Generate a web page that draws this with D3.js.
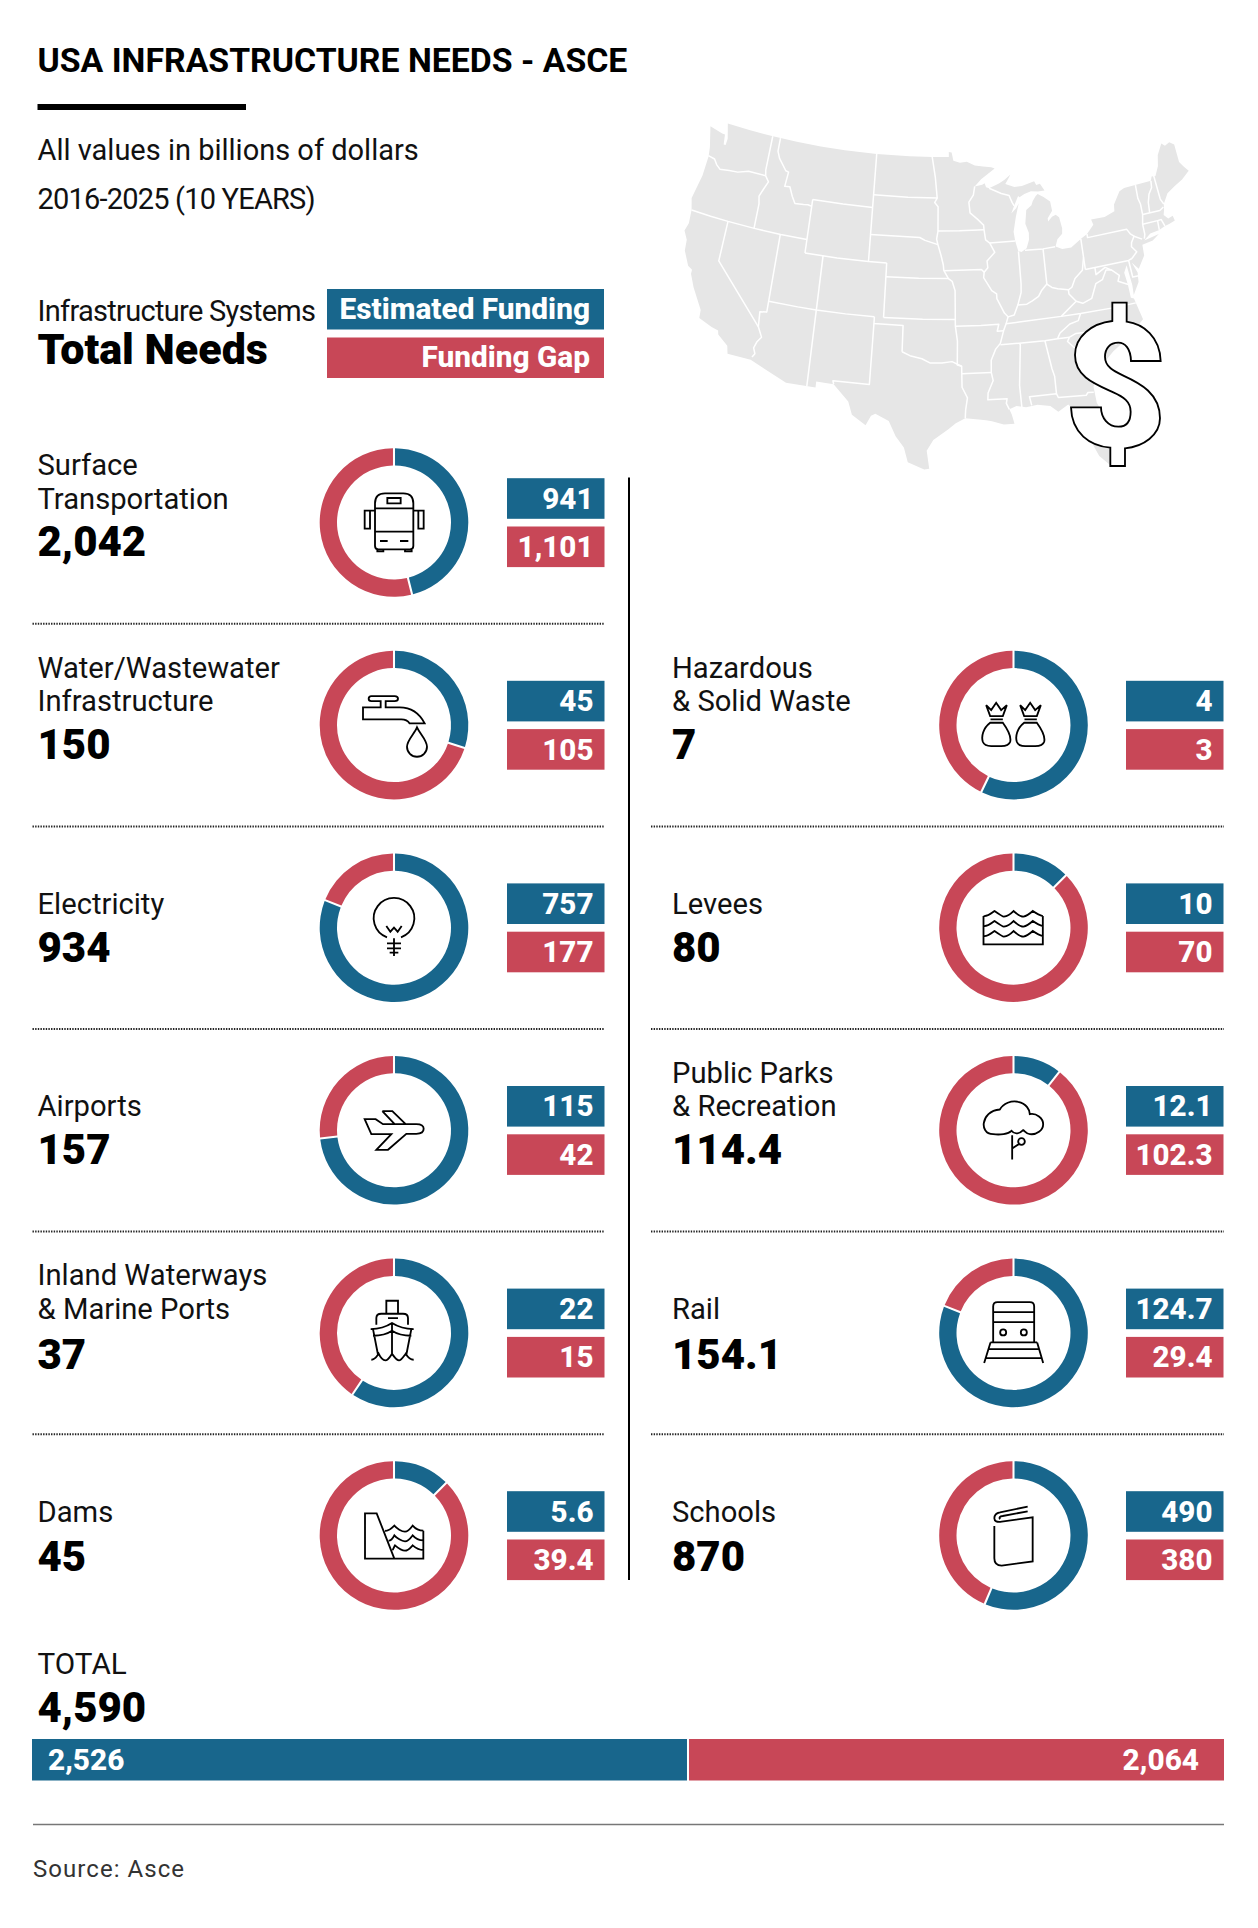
<!DOCTYPE html>
<html><head><meta charset="utf-8">
<script src="https://cdnjs.cloudflare.com/ajax/libs/d3/7.8.5/d3.min.js"></script>
<style>html,body{margin:0;padding:0;background:#fff}svg{display:block}text{font-family:Roboto,sans-serif}</style>
</head><body><script>
const systems = [["Surface","Transportation"],["Water/Wastewater","Infrastructure"],["Electricity"],["Airports"],["Inland Waterways","& Marine Ports"],["Dams"],["Hazardous","& Solid Waste"],["Levees"],["Public Parks","& Recreation"],["Rail"],["Schools"]];
const columnOf = [0,0,0,0,0,0,1,1,1,1,1];
const rowOf = [0,1,2,3,4,5,1,2,3,4,5];
const totalNeeds = [2042,150,934,157,37,45,7,80,114.4,154.1,870];
const estimatedFunding = [941,45,757,115,22,5.6,4,10,12.1,124.7,490];
const fundingGap = [1101,105,177,42,15,39.4,3,70,102.3,29.4,380];
const grandTotal = 4590, grandFunding = 2526, grandGap = 2064;
const iconNames = ["bus","tap","bulb","plane","ship","dam","bags","levee","tree","train","book"];

// lower-48 outline, lon/lat
const usOutline = [[-124.7,48.38],[-123.1,48.15],[-122.75,48.15],[-122.6,47.4],[-122.35,47.4],[-122.3,47.9],[-122.5,48.4],[-122.75,49],[-120,49],[-117,49],[-114,49],[-111,49],[-108,49],[-104.05,49],[-100,49],[-97.2,49],[-95.15,49],[-95.15,49.38],[-94.8,49.33],[-94.6,48.72],[-93.8,48.55],[-92.95,48.62],[-92,48.3],[-91,48.2],[-90,48.1],[-89.6,48],[-91.3,47.25],[-92.1,46.75],[-91.2,46.85],[-90.9,46.95],[-90.75,46.65],[-90.4,46.55],[-89.2,46.85],[-88.5,47.1],[-87.75,47.45],[-88.2,47],[-88.45,46.78],[-87.4,46.5],[-86.5,46.5],[-85,46.75],[-84.8,46.45],[-84.35,46.5],[-84.1,46.2],[-83.9,45.97],[-84.7,45.95],[-85.5,46.05],[-86.3,45.9],[-86.9,45.7],[-87.05,45.8],[-87.6,45.1],[-88,44.55],[-87.4,44.9],[-87.05,45.25],[-87.5,44.3],[-87.9,43.2],[-87.8,42.5],[-87.55,41.75],[-87.2,41.65],[-86.6,41.9],[-86.25,42.5],[-86.2,43],[-86.5,43.7],[-86.25,44.7],[-85.6,45],[-85.4,45.3],[-85,45.65],[-84.75,45.78],[-84.1,45.5],[-83.4,45.1],[-83.3,44.4],[-83.9,43.9],[-83.9,43.65],[-83.4,43.95],[-82.95,44.07],[-82.6,43.85],[-82.42,43],[-82.5,42.6],[-83.1,42.25],[-83.4,41.75],[-82.7,41.5],[-81.7,41.5],[-80.5,42],[-79.76,42.27],[-78.9,42.85],[-79.05,43.27],[-77.5,43.25],[-76.3,43.5],[-76.2,44],[-75.3,44.85],[-74.7,45],[-71.5,45],[-71.3,45.3],[-70.85,45.25],[-70.3,45.9],[-70,46.7],[-69.25,47.45],[-68.9,47.2],[-68.3,47.35],[-67.8,47.07],[-67.8,45.7],[-67.45,45.3],[-67,44.85],[-68,44.4],[-69,44.1],[-70,43.75],[-70.7,43.07],[-70.8,42.7],[-71,42.3],[-70.6,41.95],[-70.05,42.05],[-69.95,41.67],[-70.6,41.55],[-71.2,41.48],[-71.85,41.32],[-72.9,41.25],[-73.7,40.87],[-72,41.05],[-72.8,40.7],[-74,40.6],[-74.05,39.8],[-74.9,38.95],[-75.5,39.5],[-75.1,38.7],[-75.2,38],[-75.95,37.15],[-75.9,37.9],[-76.1,39.4],[-76.5,38.9],[-76.35,38],[-76.3,37],[-76,36.9],[-75.5,35.25],[-76.5,34.65],[-77.9,33.9],[-79,33.4],[-80.7,32.3],[-81.4,31.1],[-81.3,29.9],[-80.55,28.4],[-80.05,26.8],[-80.2,25.5],[-80.9,25.15],[-81.75,25.95],[-82.2,26.9],[-82.75,27.8],[-82.65,28.8],[-83.4,29.55],[-84,30.1],[-85,29.65],[-85.7,30.15],[-86.9,30.35],[-88,30.25],[-88.9,30.4],[-89.6,30.2],[-89.4,29.8],[-89.2,29.1],[-90.2,29.1],[-91.3,29.4],[-91.85,29.5],[-92.3,29.55],[-93.8,29.7],[-94.7,29.35],[-95.4,28.9],[-96.8,28.1],[-97.4,27.3],[-97.15,25.97],[-97.6,25.9],[-99.1,26.4],[-99.5,27.5],[-100.3,28.3],[-101,29.4],[-102.3,29.87],[-102.7,29.7],[-103.15,28.98],[-104.5,29.65],[-104.95,30.6],[-106.5,31.75],[-108.2,31.78],[-108.2,31.33],[-111.07,31.33],[-114.8,32.5],[-117.12,32.53],[-117.3,33.1],[-118.4,33.75],[-118.5,34.03],[-119.2,34.15],[-120.6,34.55],[-120.65,35.15],[-121.9,36.6],[-122.5,37.5],[-122.5,37.8],[-123,38],[-123.75,39],[-123.85,39.8],[-124.35,40.4],[-124.1,41],[-124.2,42],[-124.55,42.85],[-124.05,44.7],[-123.95,46.2],[-124.1,46.9]];
// state borders, lon/lat
const stateBorders = [
[[-124,46.25],[-123.2,46.15],[-122.8,45.8],[-122.3,45.55],[-121.2,45.65],[-120.2,45.72],[-119.3,45.93],[-119,46],[-116.92,46]],
[[-117.03,49],[-117.04,46.4],[-116.92,46]],
[[-116.92,46],[-116.46,45.6],[-116.85,45],[-117.2,44.4],[-117.03,43.85],[-117.03,42]],
[[-124.2,42],[-122,42],[-120,42],[-117,42],[-114,42],[-111.05,42]],
[[-120,42],[-120,39],[-114.63,35]],
[[-114.63,35],[-114.14,34.3],[-114.5,33.9],[-114.72,33.4],[-114.5,33],[-114.72,32.72]],
[[-114.63,35],[-114.75,36.1],[-114.05,36.2]],
[[-114.05,42],[-114.05,36.2],[-114.05,37]],
[[-114.05,37],[-111,37],[-109.05,37],[-106,37],[-103,37]],
[[-116.05,49],[-116.05,48],[-115.7,47.5],[-114.7,46.7],[-114.35,46.65],[-114.5,45.55],[-113.9,45.6],[-113.45,44.95],[-113,44.45],[-112,44.5],[-111.5,44.55],[-111.05,44.48]],
[[-111.05,45],[-107.5,45],[-104.05,45]],
[[-111.05,45],[-111.05,41]],
[[-111.05,41],[-107.5,41],[-104.05,41],[-102.05,41]],
[[-104.05,49],[-104.05,41]],
[[-109.05,41],[-109.05,31.33]],
[[-102.05,41],[-102.05,37]],
[[-102.05,40],[-98.5,40],[-95.3,40]],
[[-102.05,37],[-98,37],[-94.62,37]],
[[-103,37],[-103,36.5],[-100,36.5],[-100,34.56]],
[[-103,36.5],[-103.05,32],[-106.6,32],[-106.5,31.75]],
[[-100,34.56],[-99.2,34.3],[-98,34.1],[-97.2,33.8],[-96,33.8],[-95,33.9],[-94.05,33.55]],
[[-104.05,45.94],[-100,45.94],[-96.56,45.94]],
[[-104.05,43],[-98.5,43],[-97.9,42.8],[-96.45,42.5]],
[[-97.2,49],[-96.8,47.5],[-96.56,45.94],[-96.85,45.6],[-96.45,45.3],[-96.45,43.5],[-96.6,42.9],[-96.45,42.5],[-96.1,41.7],[-95.85,41],[-95.8,40.6],[-95.3,40],[-94.9,39.8],[-94.6,39.1],[-94.62,36.5],[-94.43,35.4],[-94.48,33.64],[-94.05,33.55],[-94.05,32],[-93.55,31.2],[-93.75,30.3],[-93.8,29.7]],
[[-96.45,43.5],[-94,43.5],[-91.22,43.5]],
[[-95.77,40.58],[-91.7,40.6],[-91.42,40.38]],
[[-94.62,36.5],[-92,36.5],[-90.15,36.5],[-90.35,36],[-89.7,36]],
[[-94.05,33],[-91.15,33]],
[[-92.1,46.75],[-92.3,46.1],[-92.85,45.6],[-92.75,44.8],[-91.9,44.3],[-91.25,43.85],[-91.22,43.5],[-91.1,42.75],[-90.65,42.5],[-90.15,41.8],[-91.05,41.2],[-91,40.7],[-91.42,40.38],[-91.5,40],[-90.7,39],[-90.2,38.75],[-90.2,38.4],[-89.5,37.3],[-89.15,37],[-89.4,36.5],[-89.7,36],[-90.1,35.1],[-90.6,34.7],[-91.1,33.9],[-91.15,33],[-91,32.4],[-91.55,31.5],[-91.6,31],[-89.75,31],[-89.85,30.65],[-89.6,30.2]],
[[-90.65,42.5],[-87.8,42.5]],
[[-90.4,46.55],[-89,46.1],[-88.1,45.9],[-87.8,45.35],[-87.6,45.1]],
[[-87.53,41.72],[-87.53,39.35],[-87.6,38.7],[-88.05,37.8]],
[[-89.15,37],[-88.5,37.1],[-88.05,37.8],[-87.1,37.8],[-86.5,38],[-85.8,38.27],[-85.4,38.7],[-84.8,39.1],[-84.3,38.8],[-83.7,38.65],[-82.6,38.45],[-82.2,38.6],[-81.75,39.2],[-80.85,39.7],[-80.52,40.64]],
[[-84.8,41.7],[-84.8,39.1]],
[[-86.8,41.76],[-84.8,41.7],[-83.45,41.73]],
[[-80.52,42],[-80.52,39.72]],
[[-79.76,42.27],[-79.76,42],[-75.35,42],[-75.05,41.6],[-74.7,41.36],[-75.1,40.95],[-75.2,40.65],[-74.75,40.2],[-75.4,39.8]],
[[-74.7,41.36],[-73.9,41]],
[[-80.52,39.72],[-75.79,39.72],[-75.4,39.8]],
[[-75.79,39.72],[-75.7,38.46],[-75.05,38.45]],
[[-79.48,39.72],[-79.48,39.2],[-78.4,39.6],[-77.75,39.3],[-77.05,38.8],[-77.3,38.4],[-76.3,38]],
[[-77.75,39.3],[-78.35,39.4],[-78.9,38.75],[-79.65,38.55],[-80.3,37.55],[-81.3,37.3],[-81.95,37.53]],
[[-82.6,38.45],[-82.6,38.15],[-81.95,37.53],[-83.68,36.6],[-88.05,36.55],[-89.4,36.5]],
[[-83.68,36.6],[-81.68,36.59],[-78,36.55],[-75.9,36.55]],
[[-81.68,36.59],[-82,36.1],[-82.9,35.95],[-84,35.4],[-84.32,35]],
[[-90.1,35],[-88.2,35],[-85.6,34.98],[-84.32,35],[-83.1,35]],
[[-83.1,35],[-82.4,35.2],[-81.05,35.15],[-80.8,34.82],[-79.67,34.8],[-78.55,33.85]],
[[-83.1,35],[-83.35,34.7],[-82,33.5],[-81.4,32.6],[-80.9,32.05]],
[[-88.2,35],[-88.1,34.9],[-88.47,31.9],[-88.4,30.3]],
[[-85.6,34.98],[-85.18,32.87],[-85,32.3],[-85,31]],
[[-87.45,30.35],[-87.6,31],[-85,31],[-84.86,30.7],[-82.2,30.57],[-82,30.75],[-81.45,30.7]],
[[-73.35,45],[-73.4,44],[-73.25,43.55],[-73.27,42.75],[-73.5,42.05],[-73.5,41.3],[-73.65,41]],
[[-71.5,45],[-71.6,44.5],[-72.05,44.1],[-72.35,43.5],[-72.46,42.73]],
[[-73.27,42.75],[-71.3,42.7],[-70.82,42.87]],
[[-73.5,42.05],[-71.8,42.02],[-71.38,42.02],[-71.15,41.5]],
[[-71.8,42.02],[-71.85,41.32]],
[[-71.05,45.3],[-70.95,43.5],[-70.7,43.07]]
];

// icons are outline drawings traced at 3x, with their own centre
const iconPaths = {
 bus:{c:[162,157.5],d:"M105 100Q105 70 135 70H190Q220 70 220 100V228Q220 238 210 238H115Q105 238 105 228ZM142 84H182V100H142ZM105 115H220M105 185H220M120 213H143M180 213H205M112 238V244H130V238M195 238V244H215V238M105 122H74V176H90V122M220 122H251V176H235V122"},
 tap:{c:[283,285],d:"M207 206Q207 198 215 198H285Q295 198 295 206Q295 213 285 213H258V232H300Q350 232 375 280H330Q322 268 305 268H190V232H243V213H215Q207 213 207 206ZM352 292C345 310 322 330 322 350A30 30 0 0 0 382 350C382 330 360 310 352 292Z"},
 bulb:{c:[283,893],d:"M262 922A61 61 0 1 1 304 922M283 925V978M260 888L272 905L283 893L294 905L306 888M262 940H304M262 955H304M270 968H296"},
 plane:{c:[283,270.5],d:"M195 237H228L250 252H350Q372 252 372 266Q372 281 350 281H320L265 329H230L275 282H215ZM248 213H278L318 252M248 213L285 252"},
 ship:{c:[283,879.5],d:"M260 822V783H295V822M230 855V835Q230 822 245 822H310Q325 822 325 835V855M265 835H295M213 868Q250 868 277 850Q305 868 342 868M220 888Q255 888 277 873Q300 888 335 888M277 850V945M220 868L235 945M335 868L320 945M215 960C228 960 232 948 237 942C243 955 250 962 257 962C265 962 272 950 277 942C283 950 290 962 298 962C305 962 312 950 318 942C323 950 330 960 342 960"},
 dam:{c:[162,196.5],d:"M75 130H110L163 266H75ZM163 266H250V182M135 182C145 185 155 175 163 167C170 175 185 185 195 185C205 185 212 175 218 167C225 175 238 182 250 182M146 212C155 212 160 202 163 196C170 204 185 214 195 214C205 214 212 204 218 196C225 204 238 211 250 211M157 240C160 238 162 230 165 226C172 232 185 242 195 242C205 242 212 232 218 226C225 232 238 240 250 240"},
 bags:{c:[282,285],d:"M200 225L215 240L230 218L245 240L262 225L250 258H212ZM213 268H250M212 278C190 295 185 320 190 335Q195 348 215 348H245Q268 348 272 335Q277 315 250 278ZM302 225L317 240L332 218L347 240L364 225L352 258H314ZM315 268H352M314 278C292 295 287 320 292 335Q297 348 317 348H347Q370 348 374 335Q379 315 352 278Z"},
 levee:{c:[282,893],d:"M192 858V943H370V858M192 858C205 860 215 850 225 843C235 850 250 860 253 860C265 858 275 850 282 843C290 850 305 860 312 860C322 858 332 850 340 843C350 850 360 856 370 858M192 888C205 890 215 880 225 873C235 880 250 890 253 890C265 888 275 880 282 873C290 880 305 890 312 890C322 888 332 880 340 873C350 880 360 886 370 888M192 918C205 920 215 910 225 903C235 910 250 920 253 920C265 918 275 910 282 903C290 910 305 920 312 920C322 918 332 910 340 903C350 910 360 916 370 918"},
 tree:{c:[281,270.5],d:"M220 282C195 282 190 260 192 248C195 230 210 210 240 208C250 190 275 180 295 185C320 190 330 210 330 222C350 218 370 235 370 252C370 270 350 285 330 282C320 282 315 272 310 270C300 280 285 285 275 272C265 282 240 285 220 282ZM277 285V358M277 325L297 312M315 304A10 10 0 1 1 295 304A10 10 0 1 1 315 304Z"},
 train:{c:[281,879.5],d:"M220 908V800Q220 787 233 787H330Q343 787 343 800V908M220 817H343M220 847H343M259 878A9 9 0 1 1 241 878A9 9 0 1 1 259 878ZM321 878A9 9 0 1 1 303 878A9 9 0 1 1 321 878ZM212 908H352M212 908L193 970M352 908L370 970M205 928H358M197 955H366"},
 book:{c:[160.5,196.5],d:"M103 168V265Q103 287 125 287L218 274V142L125 155Q103 158 103 145Q103 130 120 127L203 110M203 124L128 138Q115 140 120 148"}
};
const dollarPath = "M277 68H320V125C370 132 420 170 422 243H333C332 205 315 188 295 188C270 188 255 205 255 230C255 262 285 275 310 287C360 310 420 340 420 415C420 465 370 500 315 505V558H271V503C210 498 155 460 153 382H243C243 415 265 440 295 440C320 440 332 425 332 395C332 365 310 350 280 337C225 312 165 290 165 225C165 170 215 130 277 123Z";

const BLUE="#18668c", RED="#c84757", INK="#111";
const svg = d3.select("body").append("svg").attr("width",1258).attr("height",1928).attr("viewBox","0 0 1258 1928");
const txt=(x,y,s,size,w,o={})=>svg.append("text").attr("x",x).attr("y",y).attr("font-size",size).attr("font-weight",w).attr("fill",o.fill||INK).attr("text-anchor",o.anchor||"start").attr("letter-spacing",o.ls||null).text(s);

// map
const base = d3.geoAlbers().rotate([96,0]).center([0,38]).parallels([29.5,45.5]).scale(1000).translate([0,0]);
const pts = usOutline.map(base);
const mapX = d3.scaleLinear().domain(d3.extent(pts,p=>p[0])).range([684.5,1188.7]);
const mapY = d3.scaleLinear().domain(d3.extent(pts,p=>p[1])).range([123.5,469.5]);
const mapLine = d3.line().x(d=>mapX(base(d)[0])).y(d=>mapY(base(d)[1]));
svg.append("path").attr("d",mapLine(usOutline)+"Z").attr("fill","#e6e6e6");
svg.append("g").selectAll("path").data(stateBorders).join("path").attr("d",mapLine).attr("fill","none").attr("stroke","#fff").attr("stroke-width",1.5).attr("stroke-linejoin","round");
svg.append("path").attr("d",dollarPath).attr("transform","translate(1020,280) scale(.3333)").attr("fill","#fff").attr("stroke","#000").attr("stroke-width",5.5);

// header
txt(37.5,71.5,"USA INFRASTRUCTURE NEEDS - ASCE",33.8,700,{fill:"#000"});
svg.append("rect").attr("x",37.5).attr("y",104).attr("width",208.5).attr("height",6).attr("fill","#000");
txt(37.5,160,"All values in billions of dollars",29,400);
txt(37.5,209,"2016-2025 (10 YEARS)",29,400,{ls:-.8});
txt(37.5,321,"Infrastructure Systems",29,400,{ls:-.7});
txt(37.5,364,"Total Needs",43,900,{fill:"#000"});
svg.append("rect").attr("x",327).attr("y",289).attr("width",277).attr("height",40.5).attr("fill",BLUE);
svg.append("rect").attr("x",327).attr("y",337.5).attr("width",277).attr("height",40.5).attr("fill",RED);
txt(590,319,"Estimated Funding",29.8,800,{fill:"#fff",anchor:"end"});
txt(590,367,"Funding Gap",29.8,800,{fill:"#fff",anchor:"end"});

// rows
const rowY = d3.scaleLinear().domain([0,5]).range([522.5,1535.5]);
const numberDrop = [33,33.5,34,34,36,35];
const colText = d3.scaleOrdinal().domain([0,1]).range([37.5,672]);
const colDonut = d3.scaleOrdinal().domain([0,1]).range([394,1013.5]);
const colBar = d3.scaleOrdinal().domain([0,1]).range([507,1126]);
const barW = 97.5;
const pie = d3.pie().sort(null).startAngle(0).endAngle(2*Math.PI);
const arc = d3.arc().innerRadius(57).outerRadius(74.3).padAngle(.022);
const fmt = d3.format(",");
systems.forEach((name,i)=>{
  const col=columnOf[i], y=rowY(rowOf[i]), tx=colText(col), dx=colDonut(col), bx=colBar(col);
  if(name.length===2){ txt(tx,y-47.5,name[0],29.2,400); txt(tx,y-14,name[1],29.2,400); }
  else txt(tx,y-14,name[0],29.2,400);
  txt(tx,y+numberDrop[rowOf[i]],fmt(totalNeeds[i]),42,900,{fill:"#000"});
  const g=svg.append("g").attr("transform",`translate(${dx},${y})`);
  g.selectAll("path").data(pie([estimatedFunding[i],fundingGap[i]])).join("path").attr("d",arc).attr("fill",(d,k)=>k?RED:BLUE);
  const ic=iconPaths[iconNames[i]];
  g.append("path").attr("d",ic.d).attr("transform",`scale(.3333) translate(${-ic.c[0]},${-ic.c[1]})`).attr("fill","none").attr("stroke","#000").attr("stroke-width",5.5);
  svg.append("rect").attr("x",bx).attr("y",y-44.3).attr("width",barW).attr("height",40.6).attr("fill",BLUE);
  svg.append("rect").attr("x",bx).attr("y",y+4).attr("width",barW).attr("height",40.6).attr("fill",RED);
  txt(bx+86.5,y-14,fmt(estimatedFunding[i]),29.6,800,{fill:"#fff",anchor:"end"});
  txt(bx+86.5,y+34.5,fmt(fundingGap[i]),29.6,800,{fill:"#fff",anchor:"end"});
});
// dotted separators
const dotted=(x1,x2,y)=>svg.append("line").attr("x1",x1).attr("x2",x2).attr("y1",y).attr("y2",y).attr("stroke","#222").attr("stroke-width",2).attr("stroke-dasharray","1.4 1.25");
d3.range(5).forEach(r=>{const y=rowY(r)+101.3; dotted(32.5,604.5,y); if(r>0) dotted(651,1224,y);});
svg.append("line").attr("x1",629).attr("x2",629).attr("y1",477.5).attr("y2",1580).attr("stroke","#000").attr("stroke-width",2);

// total
txt(37.5,1673.5,"TOTAL",29.7,400);
txt(37.5,1721.5,fmt(grandTotal),42,900,{fill:"#000"});
const totalX=d3.scaleLinear().domain([0,grandTotal]).range([32,1224]);
svg.append("rect").attr("x",totalX(0)).attr("y",1739).attr("width",totalX(grandFunding)-totalX(0)-1).attr("height",41.5).attr("fill",BLUE);
svg.append("rect").attr("x",totalX(grandFunding)+1).attr("y",1739).attr("width",totalX(grandTotal)-totalX(grandFunding)-1).attr("height",41.5).attr("fill",RED);
txt(48,1770,fmt(grandFunding),29.8,800,{fill:"#fff"});
txt(1199,1770,fmt(grandGap),29.8,800,{fill:"#fff",anchor:"end"});
svg.append("line").attr("x1",33).attr("x2",1224).attr("y1",1824.5).attr("y2",1824.5).attr("stroke","#777").attr("stroke-width",1.5);
txt(33,1877,"Source: Asce",24,400,{fill:"#333",ls:1.05});
</script></body></html>
